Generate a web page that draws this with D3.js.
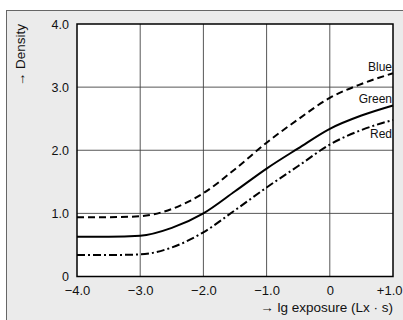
<!DOCTYPE html>
<html>
<head>
<meta charset="utf-8">
<script src="https://cdn.jsdelivr.net/npm/d3@7"></script>
<style>
  body { margin: 0; background: #fff; }
  text { font-family: "Liberation Sans", Arial, sans-serif; fill: #111; }
</style>
</head>
<body>
<script>
//curve data
var exposure = [-4, -3.5, -3, -2.5, -2, -1.5, -1, -0.5, 0, 0.5, 1];
var blue  = [0.94, 0.94, 0.955, 1.07, 1.32, 1.70, 2.12, 2.49, 2.83, 3.05, 3.22];
var green = [0.63, 0.63, 0.645, 0.77, 1.00, 1.35, 1.71, 2.03, 2.34, 2.55, 2.71];
var red   = [0.34, 0.34, 0.35, 0.46, 0.70, 1.05, 1.41, 1.75, 2.09, 2.32, 2.48];

var xTicks = [-4, -3, -2, -1, 0, 1];
var xTickLabels = ["\u22124.0", "\u22123.0", "\u22122.0", "\u22121.0", "0", "+1.0"];
var yTicks = [0, 1, 2, 3, 4];
var yTickLabels = ["0", "1.0", "2.0", "3.0", "4.0"];

var series = [
    {name: "Blue", values: blue, dash: "7,4"},
    {name: "Green", values: green, dash: null},
    {name: "Red", values: red, dash: "8,3,2,3"}
];

window.onload = setChart();

function setChart(){
    var width = 403, height = 320;

    var svg = d3.select("body")
        .append("svg")
        .attr("width", width)
        .attr("height", height);

    //grey panel
    svg.append("rect")
        .attr("x", 6.5).attr("y", 10.5)
        .attr("width", 410).attr("height", 320)
        .attr("fill", "#ebebeb")
        .attr("stroke", "#666")
        .attr("stroke-width", 1);

    var x = d3.scaleLinear().domain([-4, 1]).range([77, 393]);
    var y = d3.scaleLinear().domain([0, 4]).range([276.5, 24]);

    //plot area
    svg.append("rect")
        .attr("x", x(-4)).attr("y", y(4))
        .attr("width", x(1) - x(-4)).attr("height", y(0) - y(4))
        .attr("fill", "#fff");

    //grid lines
    svg.selectAll(".vgrid")
        .data(xTicks.slice(1, -1))
        .enter().append("line")
        .attr("class", "vgrid")
        .attr("x1", function(d){ return x(d); })
        .attr("x2", function(d){ return x(d); })
        .attr("y1", y(0)).attr("y2", y(4))
        .attr("stroke", "#444").attr("stroke-width", 0.9);

    svg.selectAll(".hgrid")
        .data(yTicks.slice(1, -1))
        .enter().append("line")
        .attr("class", "hgrid")
        .attr("x1", x(-4)).attr("x2", x(1))
        .attr("y1", function(d){ return y(d); })
        .attr("y2", function(d){ return y(d); })
        .attr("stroke", "#444").attr("stroke-width", 0.9);

    //curves
    var line = d3.line()
        .x(function(d, i){ return x(exposure[i]); })
        .y(function(d){ return y(d); })
        .curve(d3.curveMonotoneX);

    svg.selectAll(".curve")
        .data(series)
        .enter().append("path")
        .attr("class", "curve")
        .attr("d", function(d){ return line(d.values); })
        .attr("fill", "none")
        .attr("stroke", "#000")
        .attr("stroke-width", 2)
        .attr("stroke-dasharray", function(d){ return d.dash; });

    //frame
    svg.append("rect")
        .attr("x", x(-4)).attr("y", y(4))
        .attr("width", x(1) - x(-4)).attr("height", y(0) - y(4))
        .attr("fill", "none")
        .attr("stroke", "#000")
        .attr("stroke-width", 1.5);

    //curve labels
    var labelY = {Blue: 71, Green: 103, Red: 138};
    svg.selectAll(".clabel")
        .data(series)
        .enter().append("text")
        .attr("class", "clabel")
        .attr("x", 392)
        .attr("y", function(d){ return labelY[d.name]; })
        .attr("text-anchor", "end")
        .attr("font-size", 12)
        .text(function(d){ return d.name; });

    //tick labels
    var xAxis = d3.axisBottom(x)
        .tickValues(xTicks)
        .tickSize(0)
        .tickPadding(9)
        .tickFormat(function(d, i){ return xTickLabels[i]; });
    var gx = svg.append("g")
        .attr("transform", "translate(0," + y(0) + ")")
        .call(xAxis);
    gx.select(".domain").remove();
    gx.selectAll("text")
        .attr("font-size", 13)
        .attr("font-family", "Liberation Sans, Arial, sans-serif")
        .attr("fill", "#111");
    //last label sits against the right edge
    gx.selectAll(".tick").filter(function(d){ return d === 1; })
        .select("text").attr("text-anchor", "end").attr("x", 9);

    var yAxis = d3.axisLeft(y)
        .tickValues(yTicks)
        .tickSize(0)
        .tickPadding(8)
        .tickFormat(function(d, i){ return yTickLabels[i]; });
    var gy = svg.append("g")
        .attr("transform", "translate(" + x(-4) + ",0)")
        .call(yAxis);
    gy.select(".domain").remove();
    gy.selectAll("text")
        .attr("font-size", 12.5)
        .attr("font-family", "Liberation Sans, Arial, sans-serif")
        .attr("fill", "#111");

    //axis titles
    svg.append("text")
        .attr("x", 393)
        .attr("y", 312)
        .attr("text-anchor", "end")
        .attr("font-size", 13.5)
        .text("\u2192  lg exposure (Lx \u00b7 s)");

    svg.append("text")
        .attr("transform", "translate(25,24) rotate(-90)")
        .attr("text-anchor", "end")
        .attr("font-size", 13.5)
        .text("\u2192  Density");
}
</script>
</body>
</html>
